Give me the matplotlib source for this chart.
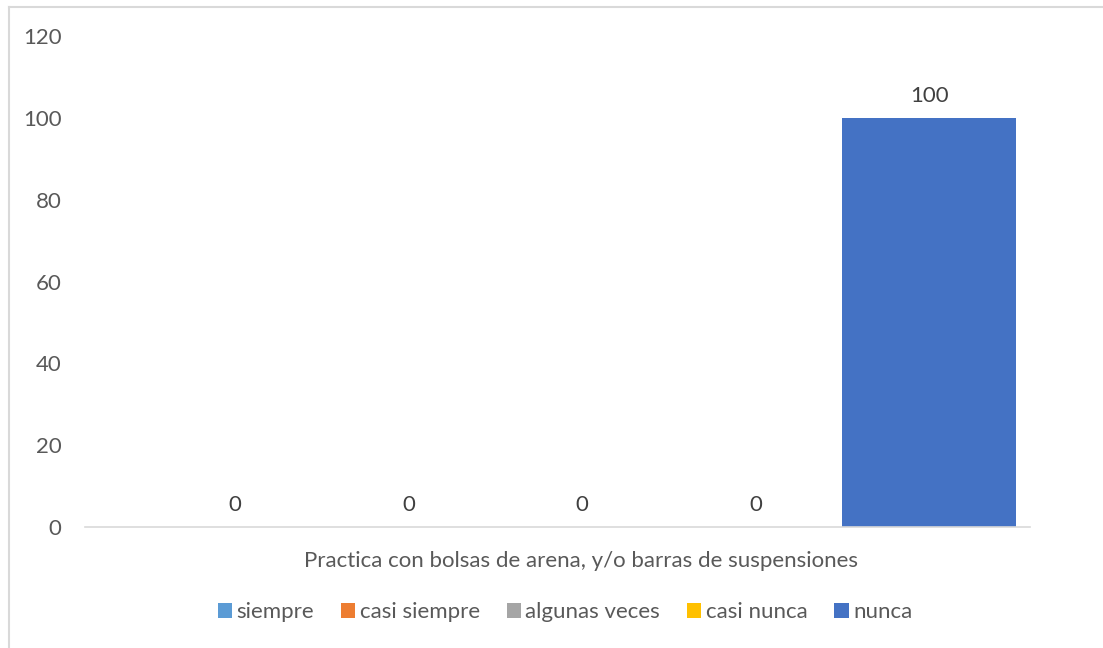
import matplotlib.pyplot as plt
from matplotlib.lines import Line2D
import numpy as np

plt.rcParams['font.family'] = ['Lato', 'DejaVu Sans']

category = 'Practica con bolsas de arena, y/o barras de suspensiones'
series = ['siempre', 'casi siempre', 'algunas veces', 'casi nunca', 'nunca']
values = [0, 0, 0, 0, 100]
colors = ['#5B9BD5', '#ED7D31', '#A5A5A5', '#FFC000', '#4472C4']

W, H = 1103, 648
FS = 16
fig = plt.figure(figsize=(W / 100, H / 100), dpi=100)
ax = fig.add_axes([85 / W, (H - 527) / H, (1030 - 85) / W, (527 - 36) / H])

# chart border (only top and left edges fall inside the frame)
fig.add_artist(Line2D([8.5 / W, 8.5 / W], [0, (H - 6.5) / H], color='#d9d9d9', lw=1.5))
fig.add_artist(Line2D([8.5 / W, 1], [(H - 6.5) / H, (H - 6.5) / H], color='#d9d9d9', lw=1.5))

n = len(series)
width = 1.0
x = (np.arange(n) - (n - 1) / 2) * width
handles = []
for xi, v, c, s in zip(x, values, colors, series):
    b = ax.bar(xi, v, width=width, color=c, label=s)
    handles.append(b)
    ax.text(xi, v + 3, f'{v}', ha='center', va='bottom', fontsize=FS, color='#404040')

ax.set_xlim(-2.865, 2.582)
ax.set_ylim(0, 120)
ax.set_yticks(range(0, 121, 20))
ax.set_xticks([])
ax.tick_params(axis='y', length=0, labelsize=FS, labelcolor='#595959', pad=17)
for sp in ['top', 'right', 'left']:
    ax.spines[sp].set_visible(False)
ax.spines['bottom'].set_color('#d9d9d9')
ax.spines['bottom'].set_linewidth(1.2)

fig.text(581 / W, (H - 561) / H, category, ha='center', va='center', fontsize=FS, color='#595959')

fig.legend(handles=handles, labels=series, loc='center', bbox_to_anchor=(565 / W, (H - 612) / H),
           ncol=n, frameon=False, fontsize=FS, labelcolor='#595959',
           handlelength=0.65, handleheight=0.65, handletextpad=0.2, columnspacing=1.2)

fig.savefig('out.png', dpi=100, facecolor='white')
